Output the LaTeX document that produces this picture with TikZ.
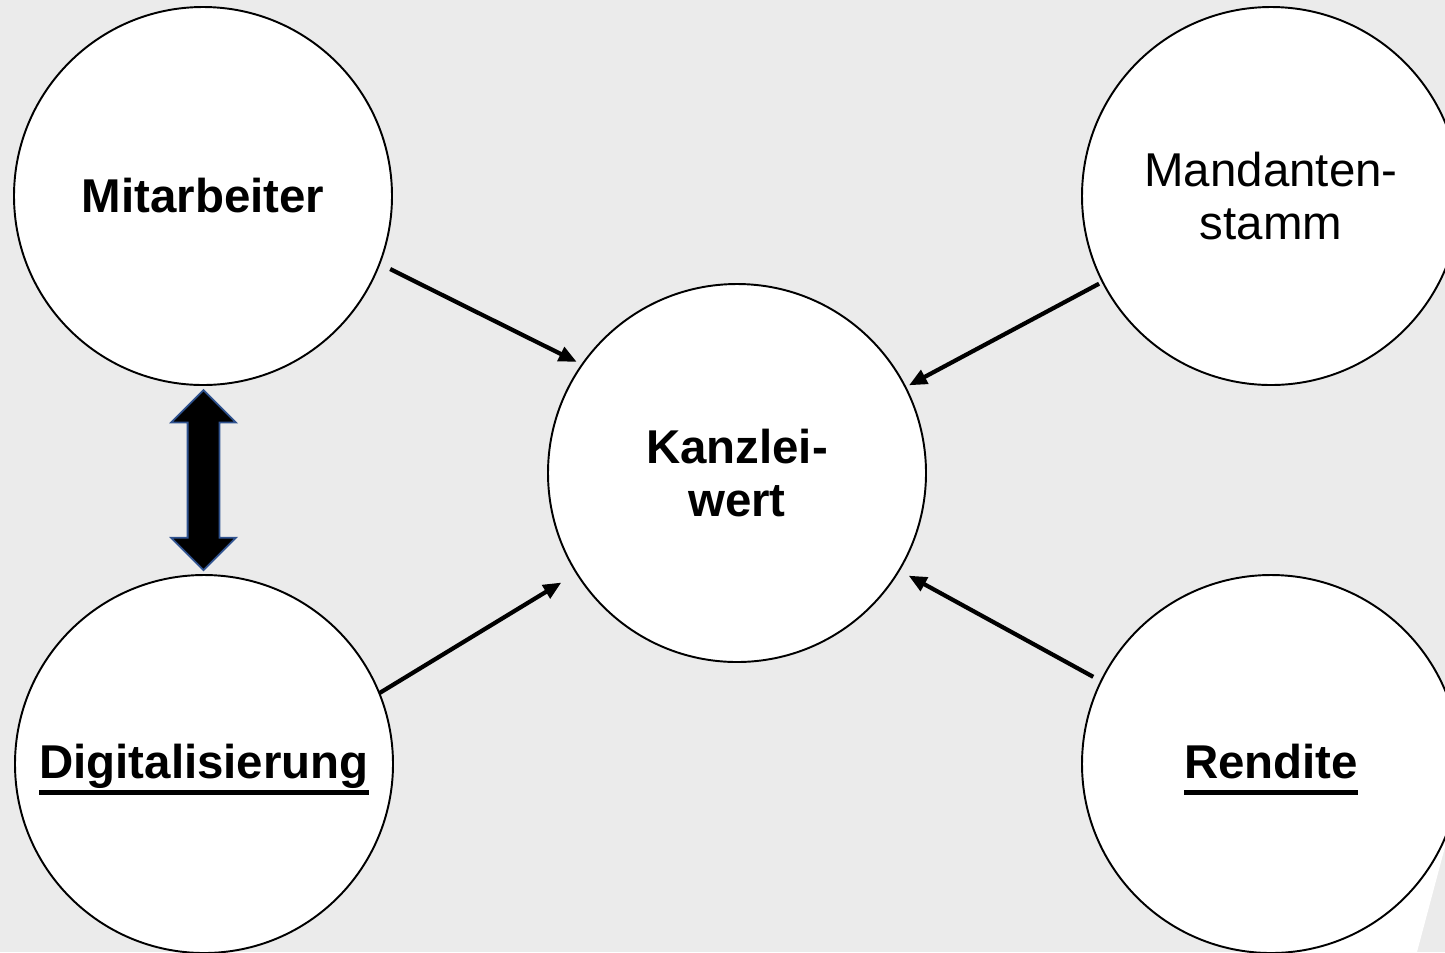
\documentclass[tikz,border=0pt]{standalone}
\usepackage{fontspec}
\setmainfont{Liberation Sans}
\usetikzlibrary{arrows.meta,shapes.arrows}
\definecolor{bggray}{HTML}{EBEBEB}
\definecolor{edgeblue}{HTML}{2F528F}
\newcommand{\ulword}[1]{\setbox0\hbox{#1}\rule{0pt}{0.95em}\rlap{\rule[-0.35em]{\wd0}{0.1em}}\box0}
\tikzset{
  factor/.style={circle, draw, line width=1.1pt, fill=white, minimum size=7.56cm, inner sep=0, outer sep=0, align=center, font=\fontsize{27pt}{30.5pt}\selectfont},
  strong/.style={font=\fontsize{27pt}{30pt}\selectfont\bfseries},
  influence/.style={-{Triangle[length=0.36cm, width=0.3cm]}, line width=2.4pt},
}
\begin{document}
\begin{tikzpicture}
%%% Start background
        \fill[bggray] (0,0) rectangle (28.9,-19.04);
        \useasboundingbox (0,0) rectangle (28.9,-19.04);
        \clip (0,0) rectangle (28.9,-19.04);
        \fill[white] (28.9,-16.94) -- (28.34,-19.04) -- (25.42,-19.04) -- (25.42,-15.28) -- (28.9,-15.28) -- cycle;
%%% End background
%%% Start Kanzleiwert
        \draw (14.74,-9.46) node[factor, strong] (kw) {Kanzlei-\\wert};
%%% End Kanzleiwert
%%% Start left circles
        \draw (kw.center) node[xshift=-10.68cm, yshift=5.54cm, factor, strong] (mit) {Mitarbeiter};
        \draw (kw.center) node[xshift=-10.66cm, yshift=-5.82cm, factor, strong] (dig) {\ulword{Digitalisierung}};
%%% End left circles
%%% Start right circles
        \draw (kw.center) node[xshift=10.68cm, yshift=5.54cm, factor] (man) {Mandanten-\\stamm};
        \draw (kw.center) node[xshift=10.68cm, yshift=-5.82cm, factor, strong] (ren) {\ulword{Rendite}};
%%% End right circles
%%% Start double arrow between Mitarbeiter and Digitalisierung
        \path (mit.south) -- (dig.north) node[midway, double arrow, rotate=90, fill=black, draw=edgeblue, line width=1pt, minimum height=3.6cm, inner xsep=0, inner ysep=0.3cm, double arrow head extend=0.33cm, double arrow tip angle=90] (link) {};
%%% End double arrow
%%% Start arrows to Kanzleiwert
        \draw[influence, shorten <=0.24cm, shorten >=0.12cm] (mit.-21) -- (kw.145);
        \draw[influence, shorten <=0.08cm, shorten >=0.08cm] (man.207) -- (kw.27);
        \draw[influence, shorten >=0.36cm] (dig.22.5) -- (kw.212);
        \draw[influence, shorten <=0.18cm, shorten >=0.22cm] (ren.154) -- (kw.-31);
%%% End arrows to Kanzleiwert
\end{tikzpicture}
\end{document}
